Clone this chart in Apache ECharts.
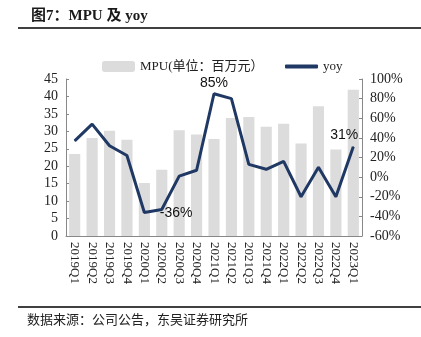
<!DOCTYPE html>
<html><head><meta charset="utf-8">
<script src="https://cdn.jsdelivr.net/npm/echarts@6/dist/echarts.min.js"></script>
<style>html,body{margin:0;padding:0;background:#fff;}#c{width:421px;height:337px;}</style>
</head><body><div id="c"></div>
<script>
var categories = ['2019Q1','2019Q2','2019Q3','2019Q4','2020Q1','2020Q2','2020Q3','2020Q4','2021Q1','2021Q2','2021Q3','2021Q4','2022Q1','2022Q2','2022Q3','2022Q4','2023Q1'];
var mpu = [23.5, 28.1, 30.2, 27.6, 15.2, 19.0, 30.3, 29.1, 27.8, 33.8, 34.1, 31.3, 32.2, 26.5, 37.2, 24.8, 41.9];
var yoy = [37, 54, 32, 22, -36, -33, 1, 7, 85, 80, 13, 8, 16, -20, 10, -20, 31];
var leftTicks = {min: 0, max: 45, interval: 5};
var rightTicks = {min: -60, max: 100, interval: 20};
var serif = '"Liberation Serif","Noto Sans CJK SC",serif';
var chart = echarts.init(document.getElementById('c'));
var lineData = yoy.map(function (v, i) {
  var d = {value: v};
  if (i === 8) d.label = {show: true, position: 'top', distance: 3, formatter: '85%'};
  if (i === 4) d.label = {show: true, position: 'right', offset: [10, 1], formatter: '-36%'};
  if (i === 16) d.label = {show: true, position: 'top', offset: [-9, 0], distance: 4, formatter: '31%'};
  return d;
});
chart.setOption({
  animation: false,
  title: {
    text: '图7：MPU 及 yoy', left: 26, top: 4,
    textStyle: {fontFamily: serif, fontWeight: 'bold', fontSize: 15, color: '#1a1a1a'}
  },
  graphic: [
    {type: 'line', shape: {x1: 18, y1: 28, x2: 421, y2: 28}, style: {stroke: '#000', lineWidth: 1.5}},
    {type: 'line', shape: {x1: 18, y1: 307, x2: 421, y2: 307}, style: {stroke: '#000', lineWidth: 1.5}},
    {type: 'text', left: 27, top: 313, style: {text: '数据来源：公司公告，东吴证券研究所', font: '13px "Noto Sans CJK SC"', fill: '#222'}}
  ],
  legend: [
    {data: ['MPU(单位：百万元）'], left: 97, top: 55, itemWidth: 33, itemHeight: 11,
     textStyle: {fontFamily: serif, fontSize: 13, color: '#222'}},
    {data: [{name: 'yoy', icon: 'roundRect'}], left: 280, top: 55, itemWidth: 33, itemHeight: 4,
     textStyle: {fontFamily: serif, fontSize: 13, color: '#222'}}
  ],
  grid: {left: 66, right: 59, top: 79, bottom: 101},
  xAxis: {
    type: 'category', data: categories,
    axisLine: {lineStyle: {color: '#888'}},
    axisTick: {inside: true, length: 3, lineStyle: {color: '#888'}},
    axisLabel: {rotate: -90, fontFamily: serif, fontSize: 13, color: '#222', margin: 6}
  },
  yAxis: [
    {type: 'value', min: leftTicks.min, max: leftTicks.max, interval: leftTicks.interval,
     splitLine: {show: false},
     axisLine: {show: true, lineStyle: {color: '#888'}},
     axisTick: {show: true, inside: true, length: 3, lineStyle: {color: '#888'}},
     axisLabel: {fontFamily: serif, fontSize: 14, color: '#222', margin: 8}},
    {type: 'value', min: rightTicks.min, max: rightTicks.max, interval: rightTicks.interval,
     splitLine: {show: false},
     axisLine: {show: true, lineStyle: {color: '#888'}},
     axisTick: {show: true, inside: true, length: 3, lineStyle: {color: '#888'}},
     axisLabel: {fontFamily: serif, fontSize: 14, color: '#222', margin: 8, formatter: '{value}%'}}
  ],
  series: [
    {name: 'MPU(单位：百万元）', type: 'bar', data: mpu, barCategoryGap: '36%',
     itemStyle: {color: '#dcdcdc'}},
    {name: 'yoy', type: 'line', yAxisIndex: 1, data: lineData, symbol: 'circle', symbolSize: 1, showSymbol: true,
     lineStyle: {color: '#1f3864', width: 3}, itemStyle: {color: '#1f3864'},
     label: {fontFamily: '"Liberation Sans",Arial,sans-serif', fontSize: 14, color: '#111'}}
  ]
});
</script></body></html>
